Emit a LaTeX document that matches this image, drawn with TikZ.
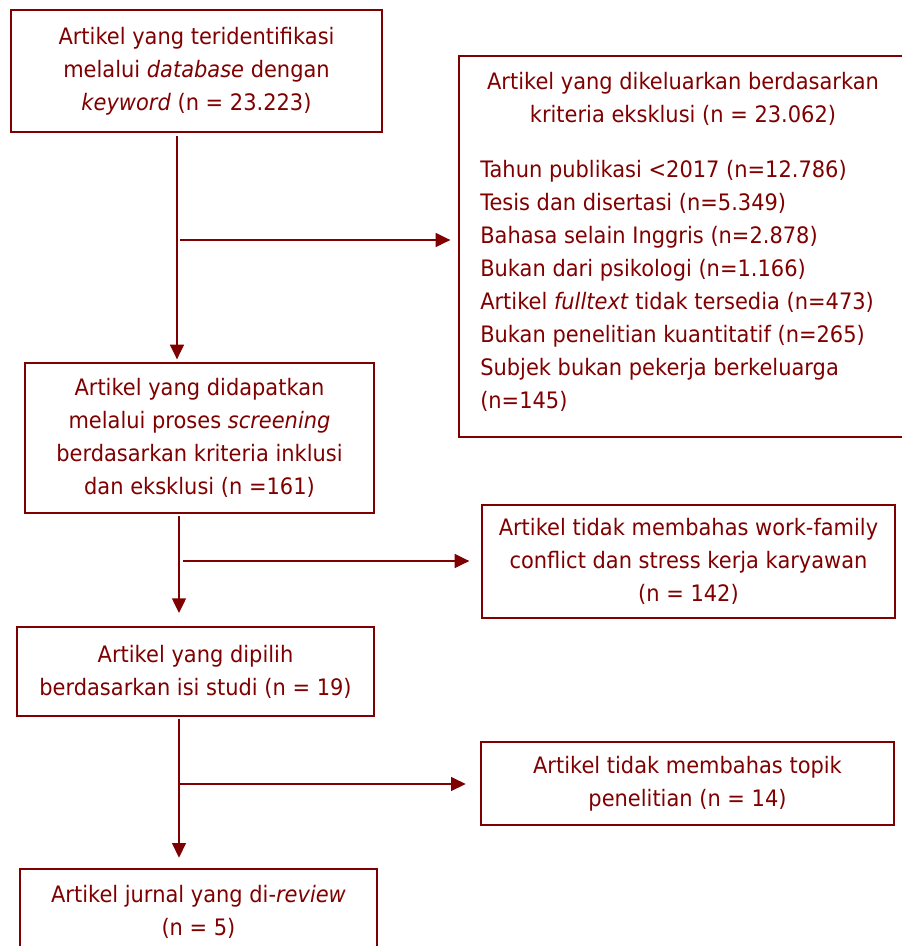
\documentclass[tikz,border=0pt]{standalone}
\usepackage{fontspec}
\setmainfont{DejaVu Sans}[FakeStretch=0.925]
\usetikzlibrary{arrows.meta}
\definecolor{maroon}{HTML}{7F0000}
\newcommand{\flowfont}{\fontsize{17}{24.75}\selectfont}
\tikzset{
  box/.style={draw=maroon, line width=1pt, inner sep=0pt, align=center, text=maroon, font=\flowfont},
  txt/.style={inner sep=0pt, text=maroon, font=\flowfont},
  arr/.style={draw=maroon, line width=1pt, -{Triangle[length=11pt,width=10.5pt]}}
}
\begin{document}
\begin{tikzpicture}[x=0.75pt,y=-0.75pt]
\path[use as bounding box, clip] (0,0) rectangle (902,946);
% boxes
\node[box, minimum width=371*0.75pt, minimum height=122*0.75pt] (b1) at (196.5,71)
  {Artikel yang teridentifikasi\\ melalui \textit{database} dengan\\ \textit{keyword} (n = 23.223)};
\node[box, minimum width=471*0.75pt, minimum height=381*0.75pt] (excl) at (694.5,246.5) {};
\node[txt, align=center] (exttl) at (683,99)
  {Artikel yang dikeluarkan berdasarkan\\ kriteria eksklusi (n = 23.062)};
\node[txt, align=left, anchor=west] (exlist) at (480,286)
  {Tahun publikasi <2017 (n=12.786)\\
   Tesis dan disertasi (n=5.349)\\
   Bahasa selain Inggris (n=2.878)\\
   Bukan dari psikologi (n=1.166)\\
   Artikel \textit{fulltext} tidak tersedia (n=473)\\
   Bukan penelitian kuantitatif (n=265)\\
   Subjek bukan pekerja berkeluarga\\
   (n=145)};
\node[box, minimum width=349*0.75pt, minimum height=150*0.75pt] (b2) at (199.5,438)
  {Artikel yang didapatkan\\ melalui proses \textit{screening}\\ berdasarkan kriteria inklusi\\ dan eksklusi (n =161)};
\node[box, minimum width=413*0.75pt, minimum height=113*0.75pt] (wf) at (688.5,561.5)
  {Artikel tidak membahas work-family\\ conflict dan stress kerja karyawan\\ (n = 142)};
\node[box, minimum width=357*0.75pt, minimum height=89*0.75pt] (b3) at (195.5,671.5)
  {Artikel yang dipilih\\ berdasarkan isi studi (n = 19)};
\node[box, minimum width=413*0.75pt, minimum height=83*0.75pt] (tp) at (687.5,783.5)
  {Artikel tidak membahas topik\\ penelitian (n = 14)};
\node[box, minimum width=357*0.75pt, minimum height=182*0.75pt, text depth=0pt] (b4) at (198.5,960) {};
\node[txt, align=center] (b4t) at (198.5,912)
  {Artikel jurnal yang di-\textit{review}\\ (n = 5)};
% connector coordinates
\coordinate (c1) at (177,240);
\coordinate (c2) at (179,561);
\coordinate (c3) at (179,784);
% arrows
\draw[arr, shorten <=2.25pt, shorten >=2.25pt] (b1.south -| c1) -- (b2.north -| c1);
\draw[arr, shorten <=2pt, shorten >=6pt] (c1) -- (excl.west |- c1);
\draw[arr, shorten <=1.5pt, shorten >=10pt] (b2.south -| c2) -- (b3.north -| c2);
\draw[arr, shorten <=3pt, shorten >=9pt] (c2) -- (wf.west |- c2);
\draw[arr, shorten <=1.5pt, shorten >=8pt] (b3.south -| c3) -- (b4.north -| c3);
\draw[arr, shorten >=11pt] (c3) -- (tp.west |- c3);
\end{tikzpicture}
\end{document}
